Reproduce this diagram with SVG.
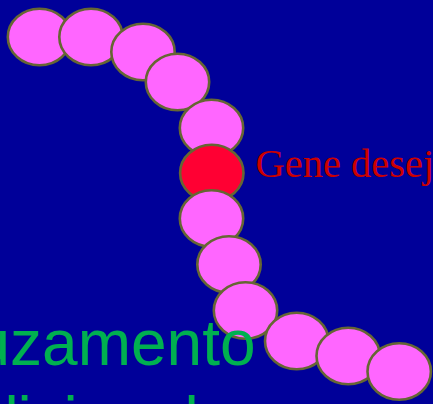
<svg xmlns="http://www.w3.org/2000/svg" width="433" height="404" viewBox="0 0 433 404">
  <style>
    .bead { fill: #FF66FF; stroke: #666633; stroke-width: 2.6; }
    .bead.target { fill: #FF0033; }
    .gene-label { font-family: "Liberation Serif", "Times New Roman", serif; font-size: 40.5px; fill: #CC0000; }
    .caption { font-family: "Liberation Sans", Arial, sans-serif; font-size: 64px; fill: #00B050; }
  </style>
  <rect width="433" height="404" fill="#000099"/>

  <!-- chromosome drawn as a chain of beads, each bead overlapping the previous one -->
  <g id="chromosome">
    <g id="bead-1"><ellipse class="bead" cx="39.5" cy="37" rx="31.7" ry="28.3"/></g>
    <g id="bead-2"><ellipse class="bead" cx="91" cy="37" rx="31.7" ry="28.3"/></g>
    <g id="bead-3"><ellipse class="bead" cx="143" cy="52" rx="31.7" ry="28.3"/></g>
    <g id="bead-4"><ellipse class="bead" cx="177.5" cy="82" rx="31.7" ry="28.3"/></g>
    <g id="bead-5"><ellipse class="bead" cx="211.5" cy="128" rx="31.7" ry="28.3"/></g>
    <g id="bead-gene"><ellipse class="bead target" cx="211.8" cy="173" rx="31.7" ry="28.3"/></g>
    <g id="bead-7"><ellipse class="bead" cx="211.5" cy="218.5" rx="31.7" ry="28.3"/></g>
    <g id="bead-8"><ellipse class="bead" cx="229" cy="264.5" rx="31.7" ry="28.3"/></g>
    <g id="bead-9"><ellipse class="bead" cx="245.5" cy="310.5" rx="31.7" ry="28.3"/></g>
    <g id="bead-10"><ellipse class="bead" cx="296.7" cy="341" rx="31.7" ry="28.3"/></g>
    <g id="bead-11"><ellipse class="bead" cx="348.2" cy="356" rx="31.7" ry="28.3"/></g>
    <g id="bead-12"><ellipse class="bead" cx="399.2" cy="371.5" rx="31.7" ry="28.3"/></g>
  </g>

  <g id="connectors"></g>

  <g id="gene-label">
    <text class="gene-label" x="255.5" y="177.3">Gene deseja</text>
  </g>

  <g id="caption">
    <text class="caption" x="255.5" y="365" text-anchor="end">uzamento</text>
    <text class="caption" y="442"><tspan x="4.6">l</tspan><tspan x="17.6">i</tspan><tspan x="63.6">i</tspan><tspan x="184.6">l</tspan></text>
  </g>
</svg>
